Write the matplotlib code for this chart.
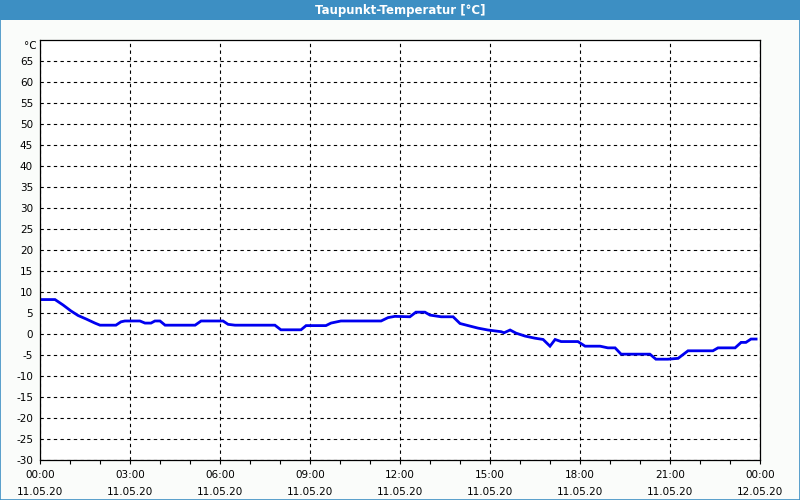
import numpy as np
import matplotlib
matplotlib.use("Agg")
import matplotlib.pyplot as plt
from matplotlib.patches import Rectangle

# dew point readings, hours since 11.05.20 00:00
hours = [0.0, 0.5, 0.77, 1.03, 1.27, 1.53, 1.83, 2.0, 2.53, 2.7, 2.83, 3.33, 3.5, 3.7,
         3.83, 4.0, 4.17, 5.17, 5.37, 6.1, 6.27, 6.5, 7.83, 8.03, 8.7, 8.87, 9.53, 9.7,
         10.03, 11.37, 11.6, 11.83, 12.33, 12.53, 12.83, 13.0, 13.37, 13.77, 14.0, 14.27,
         14.6, 14.93, 15.37, 15.47, 15.67, 15.87, 16.17, 16.5, 16.77, 17.0, 17.17, 17.37,
         17.93, 18.17, 18.67, 18.93, 19.17, 19.37, 20.33, 20.53, 20.93, 21.27, 21.6, 22.43,
         22.6, 23.17, 23.37, 23.53, 23.7, 23.87]
dewpoint = [8.2, 8.2, 6.9, 5.5, 4.4, 3.6, 2.6, 2.1, 2.1, 2.9, 3.1, 3.1, 2.6, 2.6,
            3.1, 3.1, 2.1, 2.1, 3.1, 3.1, 2.3, 2.1, 2.1, 1.0, 1.0, 2.0, 2.0, 2.6,
            3.1, 3.1, 3.9, 4.2, 4.1, 5.2, 5.2, 4.5, 4.1, 4.1, 2.5, 2.0,
            1.4, 0.95, 0.55, 0.3, 0.95, 0.2, -0.5, -1.0, -1.3, -2.9, -1.3, -1.8,
            -1.8, -2.9, -2.9, -3.3, -3.3, -4.8, -4.8, -6.0, -6.0, -5.8, -4.0, -4.0,
            -3.3, -3.3, -2.0, -2.0, -1.2, -1.2]

xtick_pos = [0, 3, 6, 9, 12, 15, 18, 21, 24]
xtick_labels = ["00:00\n11.05.20", "03:00\n11.05.20", "06:00\n11.05.20",
                "09:00\n11.05.20", "12:00\n11.05.20", "15:00\n11.05.20",
                "18:00\n11.05.20", "21:00\n11.05.20", "00:00\n12.05.20"]
ytick_pos = list(range(-30, 70, 5))

fig = plt.figure(figsize=(8, 5), dpi=100)
fig.patch.set_facecolor("#fafcfa")

# title bar and frame
fig.patches.append(Rectangle((0, 0.96), 1, 0.04, transform=fig.transFigure,
                             facecolor="#3d8fc3", edgecolor="none", zorder=0))
fig.patches.append(Rectangle((0.0006, 0.001), 0.9988, 0.998, transform=fig.transFigure,
                             facecolor="none", edgecolor="#3d8fc3", linewidth=1.2, zorder=5))
fig.text(0.5, 0.979, "Taupunkt-Temperatur [°C]", ha="center", va="center",
         color="white", fontsize=8.5, fontweight="bold")

ax = fig.add_axes([0.05, 0.08, 0.90, 0.84])
ax.set_facecolor("white")
ax.plot(hours, dewpoint, color="#0000f0", linewidth=2.0, solid_joinstyle="miter")

ax.set_xlim(0, 24)
ax.set_ylim(-30, 70)
ax.set_xticks(xtick_pos)
ax.set_xticklabels(xtick_labels, fontsize=7.5, linespacing=1.9)
ax.set_xticks(np.arange(0, 25, 1), minor=True)
ax.set_yticks(ytick_pos)
ax.set_yticklabels([str(v) for v in ytick_pos], fontsize=7.5)
ax.tick_params(axis="x", which="both", direction="out", length=3, width=0.8, pad=4)
ax.tick_params(axis="y", length=0, pad=5)
ax.text(-0.004, 0.985, "°C", transform=ax.transAxes, ha="right", va="center", fontsize=7.5)

ax.grid(True, which="major", color="black", linestyle=(0, (3, 3)), linewidth=0.8)
for s in ax.spines.values():
    s.set_color("black")
    s.set_linewidth(0.9)

fig.savefig("out.png", dpi=100, facecolor=fig.get_facecolor())
